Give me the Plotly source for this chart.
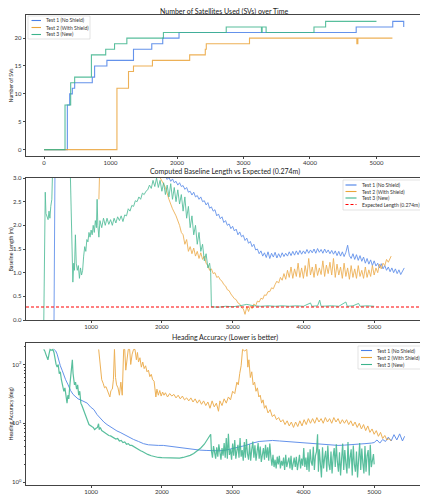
import plotly.graph_objects as go

# --- data ---
# panel 1: satellites used (step plot)
sv_t1_x = [0, 350, 385, 425, 460, 725, 760, 945, 1345, 1620, 1785, 2030, 4695, 5245, 5400, 5410]
sv_t1_y = [0, 8, 10, 11, 12, 13, 15, 16, 18, 19, 20, 21, 22, 23, 23, 22]
sv_t2_x = [0, 1096, 1270, 1345, 1630, 2190, 2425, 2440, 3090, 4705, 4720, 5240]
sv_t2_y = [0, 11, 14, 15, 16, 17, 18, 19, 20, 19, 20, 20]
sv_t3_x = [0, 315, 400, 460, 712, 927, 1060, 1245, 1795, 2740, 3270, 3280, 3340, 4060, 4235, 5000]
sv_t3_y = [0, 8, 12, 13, 17, 18, 19, 20, 21, 22, 21, 22, 21, 22, 23, 23]

# panel 2: baseline length (m), (time, value) pairs
base_t1 = [(475, -0.2), (485, 2.1), (495, 4.5), (800, 5.0), (1200, 4.2), (1600, 3.6), (1950, 3.15),
           (2000, 3.08), (2025, 3.0), (2050, 3.04), (2075, 2.97), (2100, 3.01), (2125, 2.93), (2150, 2.98),
           (2175, 2.9), (2200, 2.93), (2225, 2.85), (2250, 2.9), (2275, 2.82), (2300, 2.84), (2325, 2.76),
           (2350, 2.8), (2375, 2.7), (2400, 2.72), (2425, 2.64), (2450, 2.7), (2475, 2.6), (2500, 2.63),
           (2525, 2.55), (2550, 2.6), (2575, 2.5), (2600, 2.52), (2625, 2.43), (2650, 2.48), (2675, 2.36),
           (2700, 2.39), (2725, 2.3), (2750, 2.33), (2775, 2.2), (2800, 2.24), (2825, 2.14), (2850, 2.18),
           (2875, 2.06), (2900, 2.1), (2925, 2.0), (2950, 2.03), (2975, 1.93), (3000, 1.98), (3025, 1.88),
           (3050, 1.92), (3075, 1.8), (3100, 1.86), (3125, 1.76), (3150, 1.79), (3175, 1.68), (3200, 1.73),
           (3225, 1.62), (3250, 1.66), (3275, 1.55), (3300, 1.6), (3325, 1.48), (3350, 1.5), (3375, 1.4),
           (3400, 1.46), (3425, 1.35), (3450, 1.42), (3475, 1.32), (3500, 1.44), (3525, 1.3), (3550, 1.41),
           (3575, 1.33), (3600, 1.43), (3625, 1.31), (3650, 1.4), (3675, 1.32), (3700, 1.42), (3725, 1.34),
           (3750, 1.41), (3775, 1.35), (3800, 1.44), (3825, 1.36), (3850, 1.45), (3875, 1.37), (3900, 1.46),
           (3925, 1.38), (3950, 1.47), (3975, 1.39), (4000, 1.46), (4025, 1.4), (4050, 1.49), (4075, 1.41),
           (4100, 1.48), (4125, 1.42), (4150, 1.5), (4175, 1.41), (4200, 1.51), (4225, 1.43), (4250, 1.49),
           (4275, 1.41), (4300, 1.5), (4325, 1.42), (4350, 1.48), (4375, 1.4), (4400, 1.47), (4425, 1.39),
           (4450, 1.46), (4475, 1.36), (4500, 1.45), (4525, 1.35), (4550, 1.44), (4575, 1.34), (4600, 1.43),
           (4625, 1.58), (4650, 1.36), (4675, 1.3), (4700, 1.4), (4725, 1.28), (4750, 1.38), (4775, 1.26),
           (4800, 1.36), (4825, 1.24), (4850, 1.33), (4875, 1.2), (4900, 1.3), (4925, 1.18), (4950, 1.27),
           (4975, 1.15), (5000, 1.25), (5025, 1.14), (5050, 1.2), (5075, 1.1), (5100, 1.19), (5125, 1.08),
           (5150, 1.15), (5175, 1.05), (5200, 1.12), (5225, 1.02), (5250, 1.1), (5275, 1.0), (5300, 1.08),
           (5325, 0.98), (5350, 1.06), (5375, 0.96), (5400, 1.03), (5425, 1.1)]
base_t2 = [(1110, 2.55), (1125, 3.4), (1500, 4.0), (1900, 3.3), (1960, 3.05), (2000, 2.95), (2050, 2.8),
           (2100, 2.55), (2150, 2.35), (2200, 2.2), (2250, 2.0), (2275, 1.85), (2300, 1.8), (2325, 1.6),
           (2350, 1.7), (2375, 1.45), (2400, 1.55), (2425, 1.4), (2450, 1.52), (2475, 1.35), (2500, 1.45),
           (2525, 1.3), (2550, 1.42), (2575, 1.28), (2600, 1.35), (2625, 1.2), (2650, 1.15), (2675, 1.05),
           (2700, 1.08), (2725, 0.98), (2750, 1.0), (2775, 0.9), (2800, 0.92), (2825, 0.85), (2850, 0.82),
           (2875, 0.75), (2900, 0.72), (2925, 0.64), (2950, 0.62), (2975, 0.55), (3000, 0.5), (3025, 0.45),
           (3050, 0.43), (3075, 0.36), (3100, 0.34), (3125, 0.26), (3150, 0.24), (3175, 0.12), (3200, 0.28),
           (3225, 0.18), (3250, 0.3), (3275, 0.24), (3300, 0.34), (3325, 0.3), (3350, 0.4), (3375, 0.38),
           (3400, 0.46), (3425, 0.44), (3450, 0.53), (3475, 0.52), (3500, 0.6), (3525, 0.6), (3550, 0.68),
           (3575, 0.66), (3600, 0.75), (3625, 0.82), (3650, 0.78), (3675, 0.9), (3700, 0.84), (3725, 0.98),
           (3750, 0.86), (3775, 1.05), (3800, 0.9), (3825, 1.12), (3850, 0.88), (3875, 1.08), (3900, 0.92),
           (3925, 1.2), (3950, 0.9), (3975, 1.1), (4000, 0.88), (4025, 1.15), (4050, 0.92), (4075, 1.3),
           (4100, 0.95), (4125, 1.12), (4150, 0.9), (4175, 1.18), (4200, 0.94), (4225, 1.1), (4250, 0.96),
           (4275, 1.25), (4300, 0.92), (4325, 1.16), (4350, 0.98), (4375, 1.22), (4400, 0.95), (4425, 1.3),
           (4450, 0.9), (4475, 1.18), (4500, 0.95), (4525, 1.12), (4550, 0.88), (4575, 1.2), (4600, 0.92),
           (4625, 1.1), (4650, 0.86), (4675, 1.15), (4700, 0.9), (4725, 1.08), (4750, 0.88), (4775, 1.15),
           (4800, 0.92), (4825, 1.05), (4850, 0.88), (4875, 1.12), (4900, 0.9), (4925, 1.06), (4950, 0.92),
           (4975, 1.15), (5000, 0.95), (5025, 1.1), (5050, 1.0), (5075, 1.18), (5100, 1.08), (5125, 1.2),
           (5150, 1.15), (5175, 1.28), (5200, 1.22), (5225, 1.32), (5240, 1.35)]
base_t3 = [(330, -0.2), (340, 1.6), (352, 2.7), (362, 2.25), (378, 2.2), (392, 2.12), (405, 2.3), (418, 2.15),
           (430, 2.4), (445, 2.55), (460, 3.4), (600, 4.5), (700, 3.5), (715, 2.4), (730, 1.5), (742, 0.8),
           (755, 1.2), (765, 1.05), (778, 1.8), (790, 1.2), (805, 1.05), (820, 1.15), (835, 0.88), (850, 1.1),
           (865, 0.95), (880, 1.05), (895, 1.35), (910, 1.55), (925, 1.45), (940, 1.7), (955, 1.65), (970, 1.85),
           (985, 1.75), (1000, 1.9), (1015, 1.8), (1030, 2.0), (1045, 1.85), (1060, 2.1), (1075, 1.95),
           (1085, 2.55), (1095, 2.0), (1110, 1.75), (1125, 2.1), (1150, 1.95), (1175, 2.15), (1200, 2.0),
           (1225, 2.15), (1250, 2.02), (1275, 2.12), (1300, 2.0), (1325, 2.15), (1350, 2.05), (1375, 2.18),
           (1400, 2.1), (1425, 2.2), (1450, 2.08), (1475, 2.22), (1500, 2.2), (1525, 2.35), (1550, 2.3),
           (1575, 2.42), (1600, 2.4), (1625, 2.52), (1650, 2.5), (1675, 2.6), (1700, 2.55), (1725, 2.68),
           (1750, 2.65), (1775, 2.72), (1800, 2.75), (1825, 2.85), (1850, 2.78), (1875, 2.95), (1900, 2.82),
           (1925, 3.0), (1950, 2.8), (1975, 2.95), (2000, 2.72), (2025, 2.9), (2050, 2.65), (2075, 2.85),
           (2100, 2.6), (2125, 2.88), (2150, 2.55), (2175, 2.8), (2200, 2.5), (2225, 2.75), (2250, 2.45),
           (2275, 2.65), (2300, 2.3), (2325, 2.6), (2350, 2.15), (2375, 2.4), (2400, 1.95), (2425, 2.2),
           (2450, 1.8), (2475, 2.0), (2500, 1.6), (2525, 1.85), (2550, 1.45), (2575, 1.6), (2600, 1.25),
           (2625, 1.4), (2650, 1.1), (2675, 1.2), (2690, 1.0), (2700, 0.28), (2800, 0.27), (2900, 0.29),
           (3000, 0.28), (3100, 0.3), (3200, 0.33), (3300, 0.3), (3400, 0.29), (3500, 0.3), (3600, 0.29),
           (3700, 0.3), (3800, 0.29), (3900, 0.3), (4000, 0.29), (4100, 0.36), (4120, 0.29), (4200, 0.3),
           (4230, 0.42), (4250, 0.29), (4400, 0.3), (4500, 0.29), (4600, 0.38), (4620, 0.29), (4700, 0.3),
           (4780, 0.35), (4800, 0.29), (4900, 0.3), (5000, 0.29)]
expected_len = 0.274

# panel 3: heading accuracy (deg), (time, value) pairs
head_t1 = [(477, 180), (500, 170), (520, 150), (540, 120), (565, 95), (590, 80), (615, 65), (640, 55),
           (675, 45), (710, 36), (745, 31), (780, 28), (815, 26), (850, 25), (900, 23), (945, 22), (990, 19),
           (1040, 17), (1085, 14), (1130, 12), (1180, 10.5), (1225, 9.5), (1270, 8.7), (1320, 8), (1365, 7.4),
           (1410, 7), (1460, 6.5), (1505, 6.0), (1550, 5.6), (1600, 5.3), (1670, 4.9), (1740, 4.5), (1810, 4.3),
           (1880, 4.2), (1950, 4.2), (2020, 4.2), (2090, 4.1), (2160, 4.0), (2250, 3.8), (2345, 3.7),
           (2440, 3.6), (2530, 3.5), (2625, 3.45), (2720, 3.4), (2810, 3.4), (2905, 3.5), (3000, 3.7),
           (3090, 3.9), (3185, 4.2), (3280, 4.6), (3375, 4.9), (3470, 5.0), (3565, 5.1), (3660, 5.0),
           (3750, 4.9), (3845, 4.8), (3940, 4.7), (4030, 4.6), (4125, 4.5), (4220, 4.4), (4310, 4.3),
           (4400, 4.2), (4490, 4.2), (4580, 4.25), (4680, 4.3), (4770, 4.4), (4870, 4.5), (4960, 4.6),
           (5000, 4.7), (5040, 5.2), (5080, 4.6), (5120, 5.3), (5160, 4.9), (5200, 5.8), (5240, 5.0),
           (5280, 6.4), (5320, 5.2), (5360, 6.6), (5400, 5.0), (5430, 6.0)]
head_t2 = [(1107, 180), (1120, 120), (1135, 70), (1150, 55), (1170, 48), (1190, 40), (1210, 42), (1230, 35),
           (1250, 32), (1265, 28), (1280, 36), (1300, 38), (1315, 55), (1330, 180), (1345, 60), (1360, 45),
           (1380, 40), (1400, 30), (1420, 50), (1440, 30), (1460, 180), (1475, 180), (1490, 80), (1510, 120),
           (1525, 180), (1545, 180), (1560, 100), (1580, 150), (1600, 180), (1620, 180), (1640, 120),
           (1655, 160), (1670, 110), (1690, 130), (1710, 90), (1730, 110), (1750, 85), (1770, 95), (1790, 75),
           (1810, 80), (1830, 62), (1850, 68), (1870, 55), (1890, 52), (1905, 40), (1915, 28), (1930, 38),
           (1950, 30), (1970, 36), (1990, 29), (2010, 34), (2030, 30), (2050, 33), (2080, 28), (2110, 32),
           (2140, 29), (2170, 31), (2200, 27), (2230, 30), (2260, 26), (2290, 29), (2320, 25), (2350, 27),
           (2380, 24), (2410, 27), (2440, 23), (2470, 26), (2500, 22), (2530, 25), (2560, 21), (2590, 24),
           (2620, 20), (2650, 23), (2680, 18), (2710, 24), (2740, 19), (2770, 22), (2800, 16), (2820, 24),
           (2850, 20), (2880, 26), (2910, 22), (2940, 28), (2970, 25), (3000, 35), (3030, 32), (3060, 50),
           (3080, 45), (3100, 70), (3120, 95), (3140, 180), (3170, 170), (3200, 180), (3215, 90), (3230, 120),
           (3250, 60), (3270, 75), (3290, 45), (3310, 50), (3330, 35), (3350, 40), (3370, 28), (3390, 30),
           (3410, 22), (3430, 25), (3450, 18), (3470, 20), (3500, 15), (3530, 17), (3560, 13), (3590, 14),
           (3620, 11.5), (3650, 12.5), (3680, 10.5), (3710, 11.5), (3740, 9.5), (3770, 11), (3800, 9),
           (3830, 10.5), (3860, 8.5), (3890, 10.5), (3920, 8.8), (3950, 11), (3980, 9), (4010, 11.5),
           (4040, 9.5), (4070, 12), (4100, 10), (4130, 12), (4160, 10), (4190, 12.5), (4220, 10.5), (4250, 12),
           (4280, 10), (4310, 12.5), (4340, 10.5), (4370, 12), (4400, 10), (4430, 12.5), (4460, 10.5),
           (4490, 12), (4520, 9.8), (4550, 11.5), (4580, 10), (4610, 11.5), (4640, 9.5), (4670, 11), (4700, 9),
           (4730, 10.5), (4760, 8.5), (4790, 10), (4820, 8), (4850, 9.5), (4880, 7.5), (4910, 9), (4940, 7),
           (4970, 8), (5000, 6.5), (5030, 7.5), (5060, 6), (5090, 7), (5120, 5.5), (5150, 6.2), (5180, 5.2),
           (5210, 5.5), (5240, 5.0)]
head_t3 = [(330, 180), (345, 170), (360, 150), (375, 130), (390, 120), (405, 150), (420, 180), (440, 175),
           (460, 180), (475, 160), (490, 120), (505, 100), (520, 90), (535, 100), (550, 70), (565, 75),
           (580, 55), (600, 45), (615, 35), (630, 40), (645, 28), (660, 22), (672, 30), (685, 26), (700, 45),
           (715, 70), (725, 110), (735, 120), (745, 70), (755, 55), (765, 45), (780, 50), (795, 38), (810, 45),
           (825, 30), (840, 35), (855, 22), (870, 20), (890, 17), (910, 14), (930, 12), (950, 11), (970, 9.5),
           (990, 9), (1010, 8.8), (1030, 8.5), (1050, 7.8), (1070, 8.2), (1090, 8.5), (1105, 9.8), (1115, 7.8),
           (1130, 8.5), (1150, 7.5), (1175, 7.2), (1200, 6.8), (1225, 6.6), (1250, 6.2), (1275, 6.1),
           (1300, 5.8), (1325, 5.7), (1350, 5.4), (1375, 5.5), (1400, 5.0), (1425, 5.1), (1450, 4.7),
           (1475, 4.8), (1500, 4.4), (1525, 4.5), (1550, 4.2), (1575, 4.2), (1600, 4.0), (1625, 3.8),
           (1650, 3.7), (1675, 3.5), (1700, 3.4), (1725, 3.3), (1750, 3.15), (1775, 3.05), (1800, 2.95),
           (1850, 2.8), (1900, 2.7), (1950, 2.62), (2000, 2.6), (2050, 2.58), (2100, 2.55), (2150, 2.52),
           (2200, 2.5), (2250, 2.55), (2300, 2.62), (2350, 2.7), (2400, 2.85), (2450, 3.05), (2500, 3.35),
           (2550, 3.8), (2600, 4.4), (2630, 5.0), (2660, 5.8), (2690, 6.5),
           (2700, 3.4), (2715, 2.6), (2730, 4.1), (2745, 3.0), (2760, 2.5), (2775, 3.9), (2790, 2.7),
           (2805, 4.4), (2820, 3.1), (2835, 2.4), (2850, 3.8), (2865, 2.8), (2880, 4.6), (2895, 2.6),
           (2910, 5.6), (2925, 2.5), (2940, 6.6), (2955, 2.9), (2970, 3.6), (2985, 2.4), (3000, 4.5),
           (3015, 2.8), (3030, 5.2), (3045, 2.5), (3060, 3.4), (3075, 4.3), (3090, 2.6), (3105, 5.6),
           (3120, 2.7), (3135, 3.5), (3150, 2.3), (3165, 4.8), (3180, 2.6), (3195, 5.4), (3210, 3.0),
           (3225, 2.4), (3240, 4.4), (3255, 2.3), (3270, 3.6), (3285, 4.9), (3300, 2.6), (3315, 4.2),
           (3330, 2.3), (3345, 3.4), (3360, 4.6), (3375, 2.5), (3390, 4.0), (3405, 2.2), (3420, 3.3),
           (3435, 3.8), (3450, 2.4), (3465, 4.3), (3480, 2.6), (3495, 3.9), (3510, 2.3), (3525, 4.5),
           (3540, 2.7), (3555, 1.9), (3570, 2.9), (3585, 1.8), (3600, 2.4), (3615, 1.7), (3630, 2.7),
           (3645, 2.0), (3660, 2.8), (3675, 1.7), (3690, 2.3), (3705, 1.9), (3720, 2.6), (3735, 1.6),
           (3750, 2.9), (3765, 1.8), (3780, 2.2), (3795, 2.6), (3810, 1.7), (3825, 2.8), (3840, 1.6),
           (3855, 2.3), (3870, 2.6), (3885, 1.8), (3900, 2.7), (3915, 1.6), (3930, 2.2), (3945, 2.9),
           (3960, 1.7), (3975, 2.5), (3990, 1.9), (4005, 3.8), (4020, 1.8), (4035, 2.6), (4050, 1.6),
           (4065, 3.2), (4080, 1.5), (4095, 3.6), (4110, 2.2), (4125, 1.9), (4140, 4.0), (4155, 1.6),
           (4170, 2.8), (4185, 3.3), (4200, 6.5), (4212, 1.5), (4225, 3.6), (4240, 2.0), (4255, 1.2),
           (4270, 3.9), (4285, 1.7), (4300, 2.6), (4315, 3.4), (4330, 1.5), (4345, 4.2), (4360, 2.0),
           (4375, 1.6), (4390, 3.3), (4405, 1.4), (4420, 2.7), (4435, 3.8), (4450, 1.8), (4465, 4.4),
           (4480, 2.2), (4495, 1.5), (4510, 3.2), (4525, 1.3), (4540, 2.5), (4555, 4.5), (4570, 1.6),
           (4585, 3.5), (4600, 2.1), (4615, 1.4), (4630, 4.8), (4645, 1.7), (4660, 2.6), (4675, 3.6),
           (4690, 1.3), (4705, 4.2), (4720, 2.0), (4735, 1.5), (4750, 3.3), (4765, 1.2), (4780, 2.4),
           (4795, 4.6), (4810, 1.6), (4825, 3.7), (4840, 2.1), (4855, 1.4), (4870, 4.1), (4885, 1.5),
           (4900, 2.8), (4915, 3.5), (4930, 1.3), (4945, 4.3), (4960, 1.8), (4975, 2.6), (4990, 3.0),
           (5000, 2.0)]

names = ["Test 1 (No Shield)", "Test 2 (With Shield)", "Test 3 (New)"]
colors = ["#4a80e8", "#eba43a", "#3cb48c"]
expected_name = "Expected Length (0.274m)"

FONT = "Lato"
# the page body keeps its default 8px margin, so the figure is sized to the
# visible window and every pixel position is taken relative to that offset
OFF = 8
W, H = 428 - OFF, 500 - OFF
X1_RANGE = [-272, 5700]
X2_RANGE = [80, 5690]


def unzip(pairs):
    return [p[0] for p in pairs], [p[1] for p in pairs]


def px(x):
    return (x - OFF) / W


def py(y):
    return 1 - (y - OFF) / H


fig = go.Figure()

# panel 1
for i, (xs, ys) in enumerate([(sv_t1_x, sv_t1_y), (sv_t2_x, sv_t2_y), (sv_t3_x, sv_t3_y)]):
    fig.add_scatter(x=xs, y=ys, mode="lines", line=dict(color=colors[i], width=1.1, shape="hv"),
                    opacity=0.85, showlegend=False, xaxis="x", yaxis="y")

# panel 2
for i, pairs in enumerate([base_t1, base_t2, base_t3]):
    xs, ys = unzip(pairs)
    fig.add_scatter(x=xs, y=ys, mode="lines", line=dict(color=colors[i], width=0.9), opacity=0.85,
                    showlegend=False, xaxis="x2", yaxis="y2")
fig.add_scatter(x=X2_RANGE, y=[expected_len, expected_len], mode="lines",
                line=dict(color="red", width=1.1, dash="3px,2px"),
                showlegend=False, xaxis="x2", yaxis="y2")

# panel 3
for i, pairs in enumerate([head_t1, head_t2, head_t3]):
    xs, ys = unzip(pairs)
    fig.add_scatter(x=xs, y=ys, mode="lines", line=dict(color=colors[i], width=1.0 if i < 2 else 1.2),
                    opacity=0.85, showlegend=False, xaxis="x3", yaxis="y3")

axis_common = dict(showline=True, linecolor="#444", linewidth=0.8, mirror=True, ticks="outside",
                   ticklen=2.5, tickcolor="#444", showgrid=False, zeroline=False, automargin=False,
                   tickfont=dict(size=6, color="#333"))
xdom = [px(26), px(423)]

fig.update_layout(
    width=W, height=H,
    margin=dict(l=0, r=0, t=0, b=0),
    plot_bgcolor="white", paper_bgcolor="white",
    font=dict(family=FONT, color="#222"),
    showlegend=False,
    xaxis=dict(domain=xdom, anchor="y", range=X1_RANGE, tickvals=[0, 1000, 2000, 3000, 4000, 5000],
               ticklabelstandoff=-2, **axis_common),
    yaxis=dict(domain=[py(156), py(15)], anchor="x", range=[-1.15, 24.15],
               tickvals=[0, 5, 10, 15, 20], **axis_common),
    xaxis2=dict(domain=xdom, anchor="y2", range=X2_RANGE, tickvals=[1000, 2000, 3000, 4000, 5000],
                ticklabelstandoff=-2, **axis_common),
    yaxis2=dict(domain=[py(320), py(178)], anchor="x2", range=[0, 3],
                tickvals=[0, 0.5, 1, 1.5, 2, 2.5, 3], tickformat=".1f", **axis_common),
    xaxis3=dict(domain=xdom, anchor="y3", range=X2_RANGE, tickvals=[1000, 2000, 3000, 4000, 5000],
                ticklabelstandoff=-2, **axis_common),
    yaxis3=dict(domain=[py(485), py(343)], anchor="x3", type="log", range=[-0.05, 2.365],
                tickvals=[1, 10, 100], ticktext=["10<sup>0</sup>", "10<sup>1</sup>", "10<sup>2</sup>"],
                minor=dict(ticks="outside", ticklen=1.5, tickcolor="#444",
                           tickvals=[2, 3, 4, 5, 6, 7, 8, 9, 20, 30, 40, 50, 60, 70, 80, 90, 200]),
                **axis_common),
)

# subplot titles
titles = [("Number of Satellites Used (SVs) over Time", 11),
          ("Computed Baseline Length vs Expected (0.274m)", 172),
          ("Heading Accuracy (Lower is better)", 337.5)]
for text, yy in titles:
    fig.add_annotation(text=text, x=(xdom[0] + xdom[1]) / 2, y=py(yy), xref="paper", yref="paper",
                       showarrow=False, font=dict(size=7, color="#222"), yanchor="middle")

# y axis titles
ytitles = [("Number of SVs", 10.5, 85), ("Baseline Length (m)", 10.5, 249),
           ("Heading Accuracy (deg)", 10.5, 414)]
for text, xx, yy in ytitles:
    fig.add_annotation(text=text, x=px(xx), y=py(yy), xref="paper", yref="paper", textangle=-90,
                       showarrow=False, font=dict(size=5.2, color="#222"), xanchor="center", yanchor="middle")


def add_legend(box, line_x, text_x, rows, entries):
    # box = (x0, y0, x1, y1) in reference pixels
    fig.add_shape(type="rect", xref="paper", yref="paper", x0=px(box[0]), x1=px(box[2]),
                  y0=py(box[3]), y1=py(box[1]), line=dict(color="#d0d0d0", width=0.6),
                  fillcolor="rgba(255,255,255,0.8)", layer="above")
    for (label, color, dash), ry in zip(entries, rows):
        fig.add_shape(type="line", xref="paper", yref="paper", x0=px(line_x[0]), x1=px(line_x[1]),
                      y0=py(ry), y1=py(ry), line=dict(color=color, width=1.1, dash=dash), layer="above")
        fig.add_annotation(text=label, x=px(text_x), y=py(ry), xref="paper", yref="paper",
                           showarrow=False, xanchor="left", yanchor="middle",
                           font=dict(size=5, color="#333"))


series_entries = [(names[i], colors[i], "solid") for i in range(3)]
add_legend((28, 16, 90, 39), (31.5, 41), 44, [20.5, 27.5, 34.5], series_entries)
add_legend((343, 180, 421, 210), (345.5, 356.5), 360, [185, 191.5, 198, 204.5],
           series_entries + [(expected_name, "red", "3px,2px")])
add_legend((358, 346, 421, 369), (361, 372), 375, [350.5, 357.5, 364.5], series_entries)

fig.write_html("out.html")
